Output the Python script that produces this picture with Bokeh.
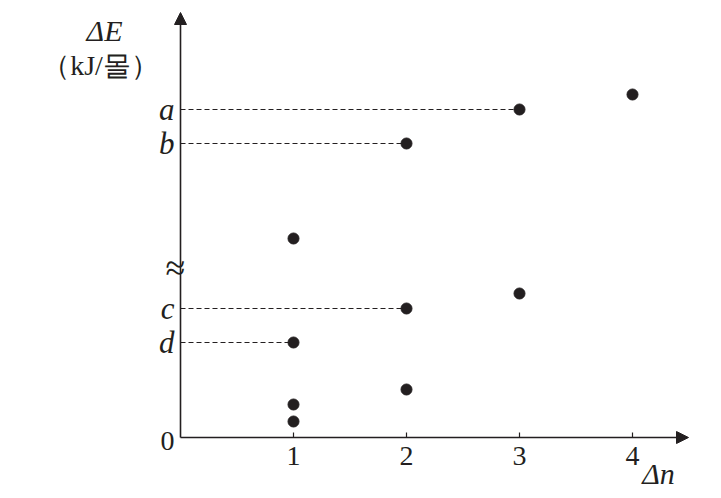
from bokeh.plotting import figure
from bokeh.models import Arrow, NormalHead, Range1d, ColumnDataSource
from bokeh.core.properties import value
from bokeh.embed import file_html
from bokeh.resources import INLINE

# data (arbitrary energy units)
n_vals = [1, 1, 2, 1, 2, 3, 1, 2, 3, 4]
dE_vals = [16, 33, 48, 95, 129, 144, 199, 294, 328, 343]
level_labels = ["a", "b", "c", "d"]
level_values = [328, 294, 129, 95]
level_n = [3, 2, 2, 1]
x_ticks = [1, 2, 3, 4]
x_tick_labels = ["1", "2", "3", "4"]

INK = "#231f20"
SERIF = value("Liberation Serif")

W, H = 713, 496
ox, oy = 180, 437          # origin position in figure pixels
ppx = 113.0                # pixels per Δn unit
p = figure(width=W, height=H, output_backend="svg", toolbar_location=None,
           x_range=Range1d(-ox / ppx, (W - ox) / ppx),
           y_range=Range1d(-(H - oy), oy),
           min_border=0, min_border_left=0, min_border_right=0,
           min_border_top=0, min_border_bottom=0)
p.axis.visible = False
p.grid.visible = False
p.outline_line_color = None
p.background_fill_color = "white"
p.border_fill_color = "white"

# axes with arrows
p.add_layout(Arrow(end=NormalHead(size=12, fill_color=INK, line_color=INK, line_width=1),
                   x_start=0, y_start=0, x_end=0, y_end=425,
                   line_color=INK, line_width=1.6))
p.add_layout(Arrow(end=NormalHead(size=12, fill_color=INK, line_color=INK, line_width=1),
                   x_start=0, y_start=0, x_end=508 / ppx, y_end=0,
                   line_color=INK, line_width=1.6))

# x ticks
p.segment(x0=x_ticks, y0=[0] * 4, x1=x_ticks, y1=[5] * 4, line_color=INK, line_width=1.2)
p.text(x=x_ticks, y=[-9] * 4, text=x_tick_labels, text_font=SERIF,
       text_font_size="28px", text_align="center", text_baseline="top", text_color=INK)

# dashed guide lines
p.segment(x0=[0] * 4, y0=level_values, x1=level_n, y1=level_values,
          line_color=INK, line_width=1.1, line_dash="5 3")
p.text(x=[-6 / ppx] * 4, y=level_values, text=level_labels, text_font=SERIF,
       text_font_style="italic", text_font_size="31px", text_align="right",
       text_baseline="middle", text_color=INK)

# zero label
p.text(x=[-6 / ppx], y=[-3], text=["0"], text_font=SERIF, text_font_size="28px",
       text_align="right", text_baseline="middle", text_color=INK)

# axis break symbol
p.text(x=[-5 / ppx], y=[170], text=["≈"], text_font=SERIF, text_font_size="36px",
       text_align="center", text_baseline="middle", text_color=INK)

# axis titles
p.text(x=[-76 / ppx], y=[407], text=["ΔE"], text_font=SERIF, text_font_style="italic",
       text_font_size="30px", text_align="center", text_baseline="middle", text_color=INK)
p.text(x=[-80 / ppx], y=[372], text=["（kJ/몰）"], text_font=SERIF,
       text_font_size="28px", text_align="center", text_baseline="middle", text_color=INK)
p.text(x=[478 / ppx], y=[-36], text=["Δn"], text_font=SERIF, text_font_style="italic",
       text_font_size="30px", text_align="center", text_baseline="middle", text_color=INK)

# points
src = ColumnDataSource(dict(n=n_vals, e=dE_vals))
p.scatter("n", "e", source=src, size=11, fill_color=INK, line_color=INK)

open("out.html", "w").write(file_html(p, INLINE))
